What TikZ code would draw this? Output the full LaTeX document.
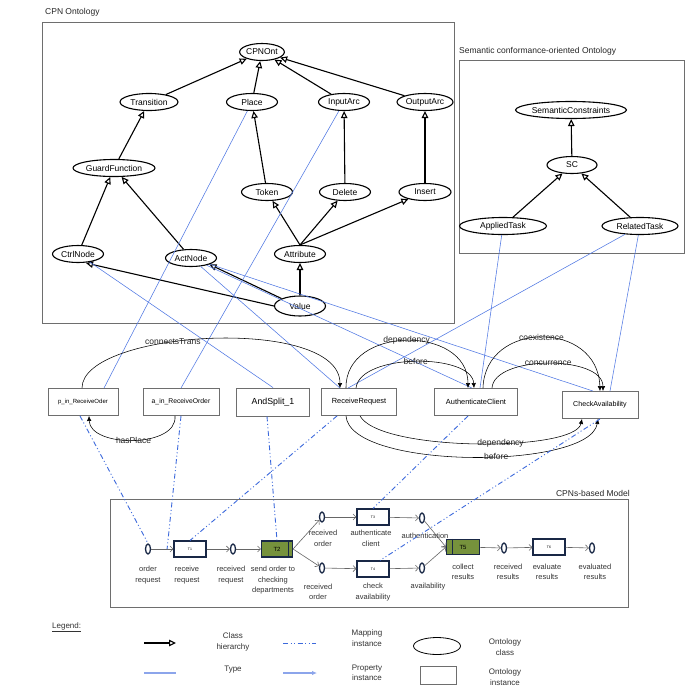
\documentclass[tikz,border=0pt]{standalone}
\usepackage{fontspec}
\setmainfont{Liberation Sans}
\usetikzlibrary{arrows.meta,shapes.geometric,calc}
\definecolor{tblue}{RGB}{80,120,228}
\definecolor{mblue}{RGB}{60,105,220}
\definecolor{lblue}{RGB}{140,165,235}
\definecolor{navy}{RGB}{25,40,70}
\definecolor{tgreen}{RGB}{118,146,60}
\definecolor{frm}{RGB}{110,110,110}
\begin{document}
\begin{tikzpicture}[x=1pt,y=-1pt,
  cls/.style={draw, ellipse, line width=1.1pt, inner sep=0pt, minimum height=17pt, font=\fontsize{8.5}{9}\selectfont},
  inst/.style={draw=frm, rectangle, line width=0.9pt, inner sep=0pt, minimum height=27pt},
  hier/.style={line width=1.1pt, -{Triangle[fill=white,length=7pt,width=6.5pt]}},
  typel/.style={draw=tblue, line width=0.55pt},
  prop/.style={line width=0.55pt, -{Latex[length=5pt,width=4.5pt]}},
  elab/.style={font=\fontsize{8.5}{9}\selectfont, inner sep=0pt, text=black!85},
  mapl/.style={draw=mblue, line width=0.9pt, dash pattern=on 5pt off 2.5pt on 1pt off 2.5pt on 1pt off 2.5pt},
  cplace/.style={draw=navy, ellipse, line width=1.3pt, minimum width=5pt, minimum height=10pt, inner sep=0pt},
  ctrans/.style={draw=navy, line width=1.1pt, fill=white, minimum width=32pt, minimum height=16pt, inner sep=0pt, font=\fontsize{3.5}{4}\selectfont},
  gtrans/.style={ctrans, fill=tgreen, font=\fontsize{6}{7}\selectfont},
  cpnarc/.style={draw=black!60, line width=0.6pt, -{Straight Barb[length=3pt,width=6pt]}},
  cpnlab/.style={font=\fontsize{7.5}{10.5}\selectfont, align=center, text=black!80, inner sep=0pt},
  ofr/.style={draw=frm, line width=0.9pt},
  ttl/.style={font=\fontsize{8.5}{9}\selectfont, inner sep=0pt, text=black!85},
  leglab/.style={font=\fontsize{8}{10.5}\selectfont, align=center, text=black!80, inner sep=0pt}
]
\useasboundingbox (0,0) rectangle (689,689);
\fill[white] (0,0) rectangle (689,689);

% frames
\draw[ofr] (42,22) rectangle (454,323);
\node[ttl, anchor=west] (lcpn) at (45,12) {CPN Ontology};
\draw[ofr] (459,60) rectangle (684,253);
\node[ttl, anchor=west] (lsem) at (459,51) {Semantic conformance-oriented Ontology};
\draw[ofr] (110,499) rectangle (628,607);
\node[ttl, anchor=east] (lmod) at (630,493) {CPNs-based Model};

% CPN ontology classes
\node[cls, minimum width=37pt] (cpn) at (262,52) {CPNOnt};
\node[cls, minimum width=58pt] (trans) at (149,102) {Transition};
\node[cls, minimum width=51pt] (place) at (252,102) {Place};
\node[cls, minimum width=51pt] (inarc) at (344,102) {InputArc};
\node[cls, minimum width=56pt] (outarc) at (425,102) {OutputArc};
\node[cls, minimum width=82pt] (guard) at (114,168) {GuardFunction};
\node[cls, minimum width=51pt] (token) at (267,192) {Token};
\node[cls, minimum width=51pt] (delete) at (345,192) {Delete};
\node[cls, minimum width=52pt] (insert) at (425,192) {Insert};
\node[cls, minimum width=51pt] (ctrl) at (78,254) {CtrlNode};
\node[cls, minimum width=51pt] (act) at (191,258) {ActNode};
\node[cls, minimum width=51pt] (attr) at (300,254) {Attribute};
\node[cls, minimum width=51pt, minimum height=20pt] (value) at (300,306) {Value};

\draw[hier] (trans) -- (cpn);
\draw[hier] (place) -- (cpn);
\draw[hier] (inarc) -- (cpn);
\draw[hier] (outarc) -- (cpn);
\draw[hier] (guard) -- (trans);
\draw[hier] (token) -- (place);
\draw[hier] (delete) -- (inarc);
\draw[hier] (insert) -- (outarc);
\draw[hier] (ctrl) -- (guard);
\draw[hier] (act) -- (guard);
\draw[hier] (attr.north) -- (token);
\draw[hier] (attr.north) -- (delete);
\draw[hier] (attr.north) -- (insert);
\draw[hier] (value) -- (attr);
\draw[hier] (value.west) -- ([xshift=8pt]ctrl.south);
\draw[hier] (value.north west) -- (act.south east);

% semantic ontology classes
\node[cls, minimum width=106pt] (semc) at (571,110) {SemanticConstraints};
\node[cls, minimum width=50pt] (sc) at (572,165) {SC};
\node[cls, minimum width=87pt] (applied) at (503,226) {AppliedTask};
\node[cls, minimum width=76pt] (related) at (640,226) {RelatedTask};
\draw[hier] (sc) -- (semc);
\draw[hier] (applied) -- (sc);
\draw[hier] (related) -- (sc);

% instances
\node[inst, minimum width=70pt, font=\fontsize{6}{7}\selectfont] (pin) at (83,402) {p\_in\_ReceiveOder};
\node[inst, minimum width=76pt, font=\fontsize{6.8}{7}\selectfont] (ain) at (181,402) {a\_in\_ReceiveOrder};
\node[inst, minimum width=73pt, minimum height=28pt, font=\fontsize{8.8}{9}\selectfont] (asp) at (273,402) {AndSplit\_1};
\node[inst, minimum width=75pt, font=\fontsize{7.4}{8}\selectfont] (rr) at (359,402) {ReceiveRequest};
\node[inst, minimum width=83pt, font=\fontsize{7.4}{8}\selectfont] (ac) at (476,402) {AuthenticateClient};
\node[inst, minimum width=76pt, font=\fontsize{7.1}{8}\selectfont] (ca) at (600,405) {CheckAvailability};

% type lines
\draw[typel] (place) -- ([xshift=21pt]pin.north);
\draw[typel] (inarc) -- (ain.north);
\draw[typel] (ctrl) -- (asp.north);
\draw[typel] (act) -- ([xshift=-19pt]rr.north);
\draw[typel] (act) -- ([xshift=-4pt]ac.north);
\draw[typel] (act) -- ([xshift=-7pt]ca.north);
\draw[typel] (applied) -- ([xshift=4pt]ac.north);
\draw[typel] (related) -- ([xshift=-11pt]rr.north);
\draw[typel] (related) -- ([xshift=10pt]ca.north);

% property instances
\draw[prop] ([xshift=-1pt]pin.north) .. controls (82,330) and (340,315) .. ([xshift=-19pt]rr.north) node[elab,pos=0.4] {connectsTrans};
\draw[prop] ([xshift=-6pt]ain.south) .. controls (178,448) and (90,448) .. ([xshift=6pt]pin.south) node[elab,pos=0.5] {hasPlace};
\draw[prop] ([xshift=-13pt]rr.north) .. controls (345,325) and (468,325) .. ([xshift=-8pt]ac.north) node[elab,pos=0.5] {dependency};
\draw[prop] ([xshift=-3pt]rr.north) .. controls (360,353) and (472,353) .. ([xshift=-2pt]ac.north) node[elab,pos=0.5] {before};
\draw[prop] ([xshift=7pt]ac.north) .. controls (485,320) and (598,320) .. (ca.north) node[elab,pos=0.5] {coexistence};
\draw[prop] ([xshift=16pt]ac.north) .. controls (494,355) and (603,355) .. ([xshift=3pt]ca.north) node[elab,pos=0.5] {concurrence};
\draw[prop] ([xshift=1pt]rr.south) .. controls (380,452) and (575,452) .. ([xshift=-18pt]ca.south) node[elab,pos=0.58] {dependency};
\draw[prop] ([xshift=-13pt]rr.south) .. controls (350,470) and (590,470) .. ([xshift=-2pt]ca.south) node[elab,pos=0.57] {before};

% CPN model
\node[cplace] (p1) at (148,549) {};
\node[ctrans] (t1) at (190,549) {T1};
\node[cplace] (p2) at (233,549) {};
\node[gtrans, minimum width=31pt] (t2) at (277,549) {T2};
\draw[navy, line width=0.8pt] ([xshift=-5pt]t2.north east) -- ([xshift=-5pt]t2.south east);
\node[cplace] (p3) at (322,517) {};
\node[cplace] (p4) at (322,568) {};
\node[ctrans] (t3) at (373,517) {T3};
\node[ctrans] (t4) at (373,569) {T4};
\node[cplace] (p5) at (422,518) {};
\node[cplace] (p6) at (422,568) {};
\node[gtrans, minimum width=33pt, minimum height=15pt] (t5) at (463,547) {T5};
\draw[navy, line width=0.8pt] ([xshift=6pt]t5.north west) -- ([xshift=6pt]t5.south west);
\node[cplace] (p7) at (504,548) {};
\node[ctrans] (t6) at (549,547) {T6};
\node[cplace] (p8) at (592,548) {};

\draw[cpnarc] (p1) -- (t1);
\draw[cpnarc] (t1) -- (p2);
\draw[cpnarc] (p2) -- (t2);
\draw[cpnarc] (t2.east) -- (p3);
\draw[cpnarc] (t2.east) -- (p4);
\draw[cpnarc] (p3) -- (t3);
\draw[cpnarc] (p4) -- (t4);
\draw[cpnarc] (t3) -- (p5);
\draw[cpnarc] (t4) -- (p6);
\draw[cpnarc] (p5) -- (t5.west);
\draw[cpnarc] (p6) -- (t5.west);
\draw[cpnarc] (t5) -- (p7);
\draw[cpnarc] (p7) -- (t6);
\draw[cpnarc] (t6) -- (p8);

\node[cpnlab] (l1) at (148,575) {order\\request};
\node[cpnlab] (l2) at (187,575) {receive\\request};
\node[cpnlab] (l3) at (231,575) {received\\request};
\node[cpnlab] (l4) at (273,580.5) {send order to\\checking\\departments};
\node[cpnlab] (l5) at (323,538.5) {received\\order};
\node[cpnlab] (l6) at (371,538.5) {authenticate\\client};
\node[cpnlab] (l7) at (318,592) {received\\order};
\node[cpnlab] (l8) at (373,592) {check\\availability};
\node[cpnlab] (l9) at (425,536) {authentication};
\node[cpnlab] (l10) at (428,587) {availability};
\node[cpnlab] (l11) at (463,572) {collect\\results};
\node[cpnlab] (l12) at (508,572) {received\\results};
\node[cpnlab] (l13) at (547,572) {evaluate\\results};
\node[cpnlab] (l14) at (595,572) {evaluated\\results};

% mapping instances
\coordinate (a1) at ($(p1)!0.75!(t1.west)$);
\draw[mapl] ([xshift=-3pt]pin.south) -- (p1.north);
\draw[mapl] (ain.south) -- (a1);
\draw[mapl] ([xshift=-6pt]asp.south) -- (t2.north);
\draw[mapl] ([xshift=-22pt]rr.south) -- (t1.north);
\draw[mapl] ([xshift=-8pt]ac.south) -- (t3.north);
\draw[mapl] (ca.south) -- ([xshift=7pt]t4.north);

% legend
\node[leglab, anchor=west] (leg) at (52,627) {\underline{Legend:}};
\coordinate (h1) at (144,643); \coordinate (h2) at (176,643);
\draw[hier] (h1) -- (h2);
\node[leglab] (lh) at (233,642) {Class\\hierarchy};
\coordinate (y1) at (144,673); \coordinate (y2) at (176,673);
\draw[lblue, line width=1.5pt] (y1) -- (y2);
\node[leglab] (lt) at (233,670) {Type};
\coordinate (m1) at (283,643); \coordinate (m2) at (316,643);
\draw[mapl] (m1) -- (m2);
\node[leglab] (lm) at (367,638) {Mapping\\instance};
\coordinate (q1) at (283,673); \coordinate (q2) at (316,673);
\draw[lblue, line width=1.2pt, -{Latex[length=5pt,width=4.5pt]}, shorten >=-1pt] (q1) -- (q2);
\node[leglab] (lp) at (367,673) {Property\\instance};
\node[draw, ellipse, line width=0.8pt, minimum width=47pt, minimum height=17pt, inner sep=0pt] (le) at (437,646) {};
\node[leglab] (lc) at (505,647) {Ontology\\class};
\node[draw=frm, line width=0.8pt, minimum width=36pt, minimum height=18pt, inner sep=0pt] (lr) at (438,675) {};
\node[leglab] (li) at (505,677) {Ontology\\instance};
\end{tikzpicture}
\end{document}
